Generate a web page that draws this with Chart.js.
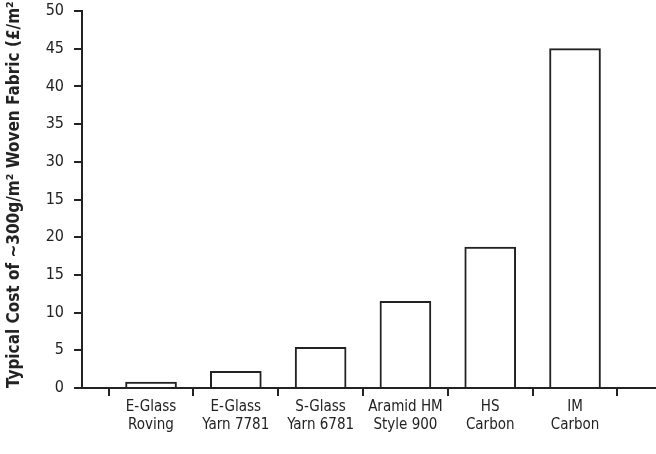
<!DOCTYPE html>
<html>
<head>
<meta charset="utf-8">
<script src="https://cdn.jsdelivr.net/npm/chart.js@4.4.1/dist/chart.umd.min.js"></script>
<style>
  body { margin: 0; background: #fff; }
  #wrap { width: 656px; height: 454px; }
</style>
</head>
<body>
<div id="wrap"><canvas id="costChart" width="656" height="454"></canvas></div>
<script>
// chart data
const categories = [
    ["E-Glass", "Roving"],
    ["E-Glass", "Yarn 7781"],
    ["S-Glass", "Yarn 6781"],
    ["Aramid HM", "Style 900"],
    ["HS", "Carbon"],
    ["IM", "Carbon"]
];
const costs = [0.8, 2.2, 5.4, 11.5, 18.7, 45];
// y tick labels as printed in the original (note the "15" at 25)
const yTickLabels = ["0", "5", "10", "15", "20", "15", "30", "35", "40", "45", "50"];
const yTitle = "Typical Cost of ~300g/m\u00B2 Woven Fabric (\u00A3/m\u00B2)";

const ink = '#222';
const narrow = "'DejaVu Sans Condensed', 'Liberation Sans Narrow', sans-serif";

const ctx = document.getElementById('costChart').getContext('2d');
new Chart(ctx, {
    type: 'bar',
    data: {
        datasets: [{
            data: costs.map((v, i) => ({ x: i, y: v })),
            backgroundColor: '#fff',
            borderColor: ink,
            borderWidth: 2,
            borderSkipped: 'bottom',
            barThickness: 51
        }]
    },
    options: {
        responsive: false,
        animation: false,
        layout: { padding: 0 },
        plugins: {
            legend: { display: false },
            tooltip: { enabled: false }
        },
        scales: {
            x: {
                type: 'linear',
                offset: false,
                min: -0.814,
                max: 5.955,
                afterBuildTicks: scale => {
                    // tick marks between categories, labels on the categories
                    const t = [];
                    for (let i = -1; i <= 11; i++) t.push({ value: i / 2 });
                    scale.ticks = t;
                },
                afterFit: scale => { scale.height = 66; },
                ticks: {
                    autoSkip: false,
                    maxRotation: 0,
                    minRotation: 0,
                    padding: 2,
                    color: ink,
                    font: { family: narrow, size: 15, lineHeight: 1.2 },
                    callback: v => Number.isInteger(v) ? categories[v] : ''
                },
                grid: {
                    offset: false,
                    drawOnChartArea: false,
                    tickLength: 8,
                    lineWidth: 2,
                    tickColor: c => (c.tick && Number.isInteger(c.tick.value)) ? 'rgba(0,0,0,0)' : ink
                },
                border: { color: ink, width: 2 }
            },
            y: {
                min: 0,
                max: 50,
                afterFit: scale => {
                    scale.width = 82;
                    scale.paddingTop = 11;
                    scale.paddingBottom = 0;
                },
                ticks: {
                    stepSize: 5,
                    padding: 10,
                    color: ink,
                    font: { family: narrow, size: 16 },
                    callback: v => yTickLabels[Math.round(v / 5)]
                },
                grid: {
                    drawOnChartArea: false,
                    tickLength: 8,
                    lineWidth: 2,
                    color: ink
                },
                border: { color: ink, width: 2 },
                title: {
                    display: true,
                    text: yTitle,
                    align: 'start',
                    color: ink,
                    padding: { top: 4, bottom: 0 },
                    font: { family: narrow, size: 17, weight: 'bold' }
                }
            }
        }
    }
});
</script>
</body>
</html>
